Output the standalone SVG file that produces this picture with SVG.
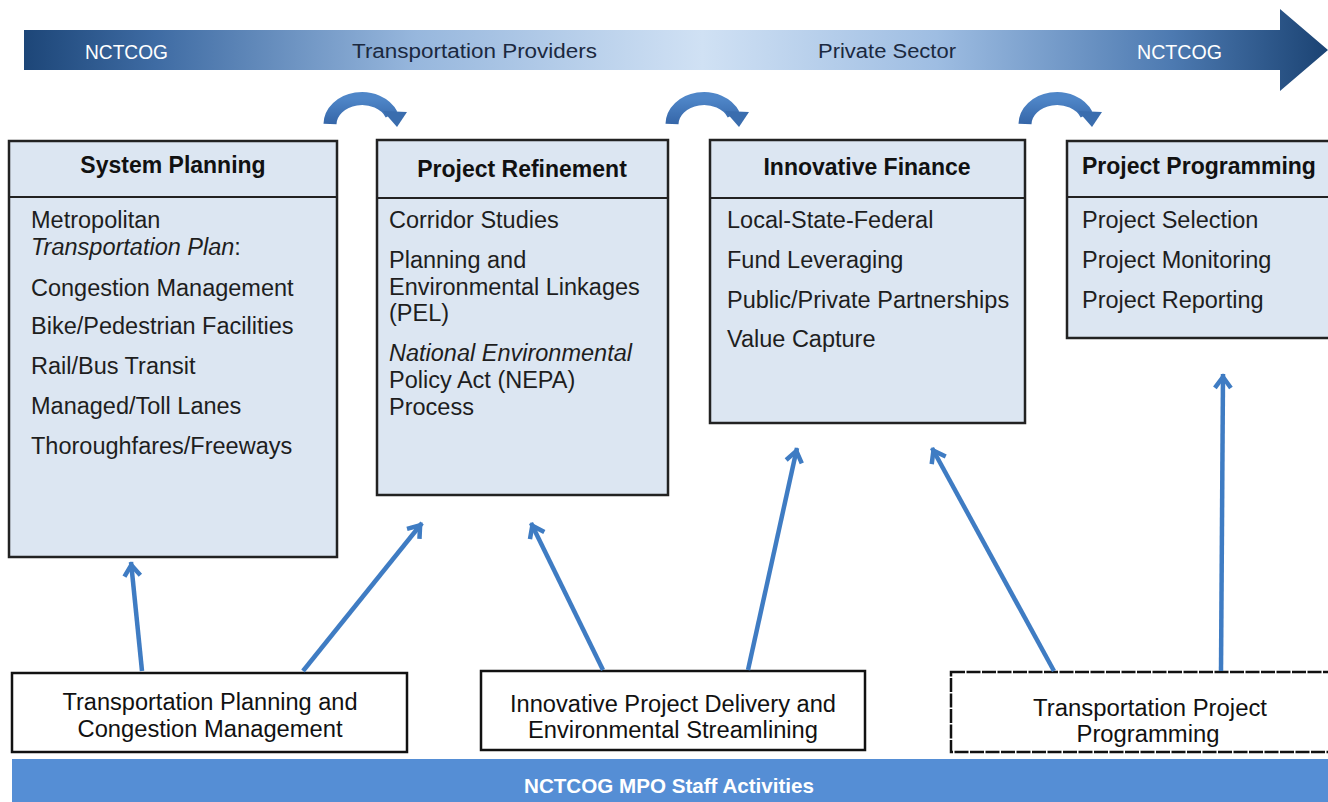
<svg xmlns="http://www.w3.org/2000/svg" width="1328" height="802" viewBox="0 0 1328 802">
  <defs>
    <linearGradient id="bannerGrad" gradientUnits="userSpaceOnUse" x1="24" y1="0" x2="1328" y2="0">
      <stop offset="0" stop-color="#1d4678"/>
      <stop offset="0.1" stop-color="#3e6ba3"/>
      <stop offset="0.3" stop-color="#97b7dd"/>
      <stop offset="0.52" stop-color="#d0e1f4"/>
      <stop offset="0.7" stop-color="#9ebde2"/>
      <stop offset="0.88" stop-color="#4d7ab1"/>
      <stop offset="1" stop-color="#1b4373"/>
    </linearGradient>
    <linearGradient id="curveGrad" x1="0" y1="0" x2="0" y2="1">
      <stop offset="0" stop-color="#4f86c8"/>
      <stop offset="1" stop-color="#3566a8"/>
    </linearGradient>
    <marker id="ah" markerUnits="userSpaceOnUse" orient="auto" refX="0" refY="0" overflow="visible" markerWidth="20" markerHeight="20">
      <path d="M-14,-8 L-3,0 L-14,8" fill="none" stroke="#3f7cc3" stroke-width="4.5"/>
    </marker>
    <g id="curveArrow">
      <path d="M330,124 A32 26 0 0 1 391.5,114.5" fill="none" stroke="url(#curveGrad)" stroke-width="13"/>
      <polygon points="383,111 407,112 397,127" fill="#3a6dae"/>
    </g>
  </defs>
  <style>
    .box { fill: #dce6f2; stroke: #222; stroke-width: 2.5; }
    .wbox { fill: #ffffff; stroke: #111; stroke-width: 2.5; }
    .div { stroke: #222; stroke-width: 2; }
    .title { font-family: "Liberation Sans", Arial, sans-serif; font-size: 23px; font-weight: bold; fill: #111; }
    .item { font-family: "Liberation Sans", Arial, sans-serif; font-size: 23.5px; fill: #1e1e1e; }
    .it { font-style: italic; }
    .btxt { font-family: "Liberation Sans", Arial, sans-serif; font-size: 23.5px; fill: #111; text-anchor: middle; }
    .ban { font-family: "Liberation Sans", Arial, sans-serif; font-size: 20px; }
    .conn { stroke: #3f7cc3; stroke-width: 4.5; fill: none; marker-end: url(#ah); }
  </style>

  <rect width="1328" height="802" fill="#ffffff"/>

  <g id="banner">
    <path d="M24,30 L1280,30 L1280,9 L1328,50 L1280,91 L1280,70 L24,70 Z" fill="url(#bannerGrad)"/>
    <text class="ban" x="85" y="59" textLength="83" lengthAdjust="spacingAndGlyphs" fill="#ffffff">NCTCOG</text>
    <text class="ban" x="352" y="58" textLength="245" lengthAdjust="spacingAndGlyphs" fill="#1b2940">Transportation  Providers</text>
    <text class="ban" x="818" y="58" textLength="138" lengthAdjust="spacingAndGlyphs" fill="#1b2940">Private  Sector</text>
    <text class="ban" x="1137" y="59" textLength="85" lengthAdjust="spacingAndGlyphs" fill="#ffffff">NCTCOG</text>
  </g>

  <g id="system-planning">
    <rect class="box" x="9" y="141" width="328" height="416"/>
    <line class="div" x1="9" y1="197" x2="337" y2="197"/>
    <text class="title" x="173" y="173" text-anchor="middle">System Planning</text>
    <text class="item" x="31" y="228">Metropolitan</text>
    <text class="item" x="31" y="255"><tspan class="it">Transportation Plan</tspan>:</text>
    <text class="item" x="31" y="296">Congestion Management</text>
    <text class="item" x="31" y="334">Bike/Pedestrian Facilities</text>
    <text class="item" x="31" y="374">Rail/Bus Transit</text>
    <text class="item" x="31" y="414">Managed/Toll Lanes</text>
    <text class="item" x="31" y="454">Thoroughfares/Freeways</text>
  </g>

  <g id="project-refinement">
    <rect class="box" x="377" y="140" width="291" height="355"/>
    <line class="div" x1="377" y1="198" x2="668" y2="198"/>
    <text class="title" x="522" y="177" text-anchor="middle">Project Refinement</text>
    <text class="item" x="389" y="228">Corridor Studies</text>
    <text class="item" x="389" y="268">Planning and</text>
    <text class="item" x="389" y="295">Environmental Linkages</text>
    <text class="item" x="389" y="321">(PEL)</text>
    <text class="item it" x="389" y="361">National Environmental</text>
    <text class="item" x="389" y="388">Policy Act (NEPA)</text>
    <text class="item" x="389" y="415">Process</text>
  </g>

  <g id="innovative-finance">
    <rect class="box" x="710" y="140" width="315" height="283"/>
    <line class="div" x1="710" y1="198" x2="1025" y2="198"/>
    <text class="title" x="867" y="175" text-anchor="middle">Innovative Finance</text>
    <text class="item" x="727" y="228">Local-State-Federal</text>
    <text class="item" x="727" y="268">Fund Leveraging</text>
    <text class="item" x="727" y="308">Public/Private Partnerships</text>
    <text class="item" x="727" y="347">Value Capture</text>
  </g>

  <g id="project-programming">
    <rect class="box" x="1067" y="141" width="275" height="197"/>
    <line class="div" x1="1067" y1="197" x2="1342" y2="197"/>
    <text class="title" x="1082" y="174">Project Programming</text>
    <text class="item" x="1082" y="228">Project Selection</text>
    <text class="item" x="1082" y="268">Project Monitoring</text>
    <text class="item" x="1082" y="308">Project Reporting</text>
  </g>

  <g id="transportation-planning">
    <rect class="wbox" x="12" y="673" width="395" height="79"/>
    <text class="btxt" x="210" y="710" textLength="295" lengthAdjust="spacingAndGlyphs">Transportation Planning and</text>
    <text class="btxt" x="210" y="737" textLength="265" lengthAdjust="spacingAndGlyphs">Congestion Management</text>
  </g>

  <g id="innovative-delivery">
    <rect class="wbox" x="481" y="671" width="384" height="79"/>
    <text class="btxt" x="673" y="712" textLength="326" lengthAdjust="spacingAndGlyphs">Innovative Project Delivery and</text>
    <text class="btxt" x="673" y="738" textLength="290" lengthAdjust="spacingAndGlyphs">Environmental Streamlining</text>
  </g>

  <g id="project-programming-activity">
    <rect class="wbox" x="951" y="672" width="395" height="80" stroke-dasharray="14 1.5"/>
    <text class="btxt" x="1150" y="716" textLength="234" lengthAdjust="spacingAndGlyphs">Transportation Project</text>
    <text class="btxt" x="1148" y="742" textLength="143" lengthAdjust="spacingAndGlyphs">Programming</text>
  </g>

  <g id="staff-activities">
    <rect x="12" y="759" width="1316" height="43" fill="#558ed5"/>
    <text x="669" y="793" text-anchor="middle" font-family="Liberation Sans, Arial, sans-serif" font-size="21" font-weight="bold" fill="#ffffff" textLength="290" lengthAdjust="spacingAndGlyphs">NCTCOG MPO Staff Activities</text>
  </g>

  <g id="connectors">
    <use href="#curveArrow"/>
    <use href="#curveArrow" transform="translate(342,0)"/>
    <use href="#curveArrow" transform="translate(695,0)"/>
    <line class="conn" x1="142" y1="671" x2="131" y2="562"/>
    <line class="conn" x1="303" y1="671" x2="422" y2="523"/>
    <line class="conn" x1="603" y1="670" x2="531" y2="523"/>
    <line class="conn" x1="748" y1="670" x2="797" y2="448"/>
    <line class="conn" x1="1054" y1="671" x2="932" y2="448"/>
    <line class="conn" x1="1221" y1="671" x2="1223" y2="374"/>
  </g>
</svg>
